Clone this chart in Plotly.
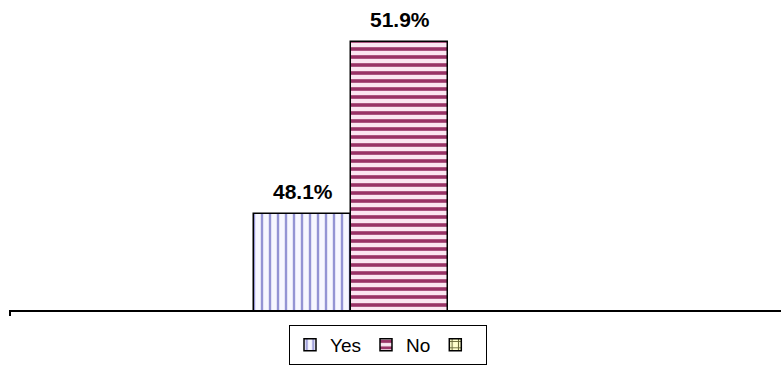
import plotly.graph_objects as go

# Survey answer shares (percent)
categories = ["Yes", "No", "\u00a0"]
shares = [48.1, 51.9, None]
fg_colors = ["#9494d4", "#993366", "#6b6b3a"]
bg_colors = ["#f7f7ff", "#fbe6f1", "#ffffcc"]
pattern_shapes = ["|", "-", "+"]
pattern_solidity = [0.3, 0.45, 0.3]

W, H = 781, 365
margin_l, margin_r, margin_t, margin_b = 10, 0, 37, 51
y_range = [46, 52]
x_range = [-3.01, 4.92]

fig = go.Figure()
for name, val, fg, bg, shp, sol in zip(categories, shares, fg_colors, bg_colors,
                                        pattern_shapes, pattern_solidity):
    fig.add_trace(go.Bar(
        x=[name], y=[val], name=name,
        marker=dict(
            color=bg,
            line=dict(color="black", width=1.5),
            pattern=dict(shape=shp, fgcolor=fg, bgcolor=bg, size=8, solidity=sol,
                         fillmode="replace"),
        ),
        hoverinfo="skip",
    ))

# value labels above each bar
for name, val in zip(categories, shares):
    if val is None:
        continue
    fig.add_annotation(
        x=name, y=val, xref="x", yref="y", text=f"<b>{val:.1f}%</b>",
        showarrow=False, yanchor="bottom", yshift=9,
        font=dict(family="Liberation Sans, Arial", size=21, color="black"),
    )

# small tick at the left end of the category axis
fig.add_shape(type="line", xref="paper", yref="paper", x0=0, x1=0,
              y0=0, y1=-6 / (H - margin_t - margin_b),
              line=dict(color="black", width=2))

fig.update_layout(
    width=W, height=H,
    margin=dict(l=margin_l, r=margin_r, t=margin_t, b=margin_b),
    paper_bgcolor="white", plot_bgcolor="white",
    barmode="overlay", bargap=0,
    font=dict(family="Liberation Sans, Arial", size=20, color="black"),
    xaxis=dict(
        type="category", categoryorder="array", categoryarray=categories,
        range=x_range, showticklabels=False, ticks="", showgrid=False,
        showline=True, linecolor="black", linewidth=2, zeroline=False,
        fixedrange=True,
    ),
    yaxis=dict(
        range=y_range, visible=False, showgrid=False, zeroline=False,
        fixedrange=True,
    ),
    showlegend=True,
    legend=dict(
        orientation="h", x=(388 - margin_l) / (W - margin_l - margin_r),
        xanchor="center", xref="paper",
        y=-(329 - (H - margin_b)) / (H - margin_t - margin_b), yanchor="top",
        bordercolor="black", borderwidth=1, bgcolor="white",
        font=dict(family="Liberation Sans, Arial", size=19, color="black"),
        itemwidth=30, traceorder="normal",
    ),
)

fig.write_html("out.html", config={"displayModeBar": False})
